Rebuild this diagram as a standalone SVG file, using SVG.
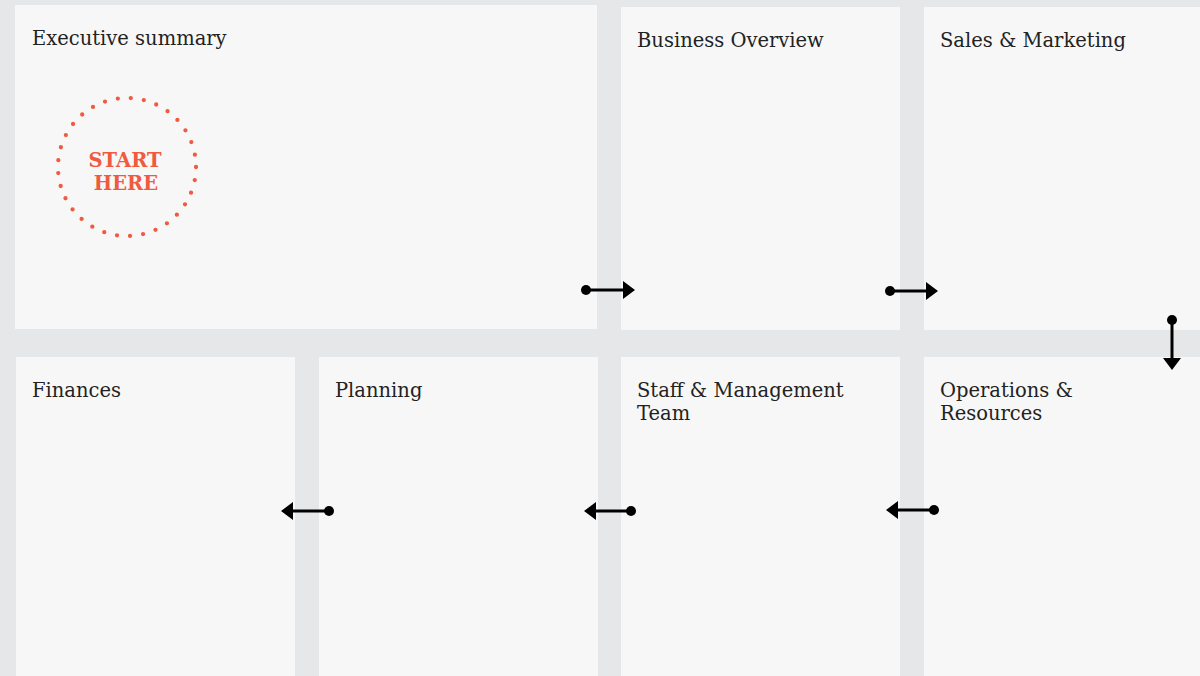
<svg xmlns="http://www.w3.org/2000/svg" width="1200" height="676" viewBox="0 0 1200 676">
<style>
.panel{fill:#f7f7f7}
.lbl{font-family:"DejaVu Serif","Liberation Serif",serif;font-size:19.5px;fill:#222;font-weight:300}
.start{font-family:"DejaVu Serif","Liberation Serif",serif;font-size:19.5px;font-weight:bold;fill:#f05a3f;text-anchor:middle}
.conn line{stroke:#000;stroke-width:3}
.conn circle{fill:#000}
.conn polygon{fill:#000}
</style>
<rect width="1200" height="676" fill="#e6e7e8"/>
<g id="exec">
<rect class="panel" x="15" y="5" width="582" height="324"/>
<text class="lbl" x="32" y="45">Executive summary</text>
<circle cx="127" cy="167" r="69" fill="none" stroke="#f05a3f" stroke-width="4.3" stroke-linecap="round" stroke-dasharray="0 13.14"/>
<text class="start" x="125" y="167">START</text>
<text class="start" x="126" y="190">HERE</text>
</g>
<g id="business">
<rect class="panel" x="621" y="7" width="279" height="323"/>
<text class="lbl" x="637" y="47">Business Overview</text>
</g>
<g id="sales">
<rect class="panel" x="924" y="7" width="276" height="323"/>
<text class="lbl" x="940" y="47">Sales &amp; Marketing</text>
</g>
<g id="finances">
<rect class="panel" x="16" y="357" width="279" height="319"/>
<text class="lbl" x="32" y="397">Finances</text>
</g>
<g id="planning">
<rect class="panel" x="319" y="357" width="279" height="319"/>
<text class="lbl" x="335" y="397">Planning</text>
</g>
<g id="staff">
<rect class="panel" x="621" y="357" width="279" height="319"/>
<text class="lbl" x="637" y="397">Staff &amp; Management</text>
<text class="lbl" x="637" y="420">Team</text>
</g>
<g id="operations">
<rect class="panel" x="924" y="357" width="276" height="319"/>
<text class="lbl" x="940" y="397">Operations &amp;</text>
<text class="lbl" x="940" y="420">Resources</text>
</g>
<g id="connectors" class="conn">
<circle cx="586" cy="290" r="5"/><line x1="586" y1="290" x2="626" y2="290"/><polygon points="623,281 635,290 623,299"/>
<circle cx="890" cy="291" r="5"/><line x1="890" y1="291" x2="929" y2="291"/><polygon points="926,282 938,291 926,300"/>
<circle cx="1172" cy="320" r="5"/><line x1="1172" y1="320" x2="1172" y2="361"/><polygon points="1163,358 1181,358 1172,370"/>
<circle cx="934" cy="510" r="5"/><line x1="934" y1="510" x2="895" y2="510"/><polygon points="898,501 886,510 898,519"/>
<circle cx="631" cy="511" r="5"/><line x1="631" y1="511" x2="593" y2="511"/><polygon points="596,502 584,511 596,520"/>
<circle cx="329" cy="511" r="5"/><line x1="329" y1="511" x2="290" y2="511"/><polygon points="293,502 281,511 293,520"/>
</g>
</svg>
